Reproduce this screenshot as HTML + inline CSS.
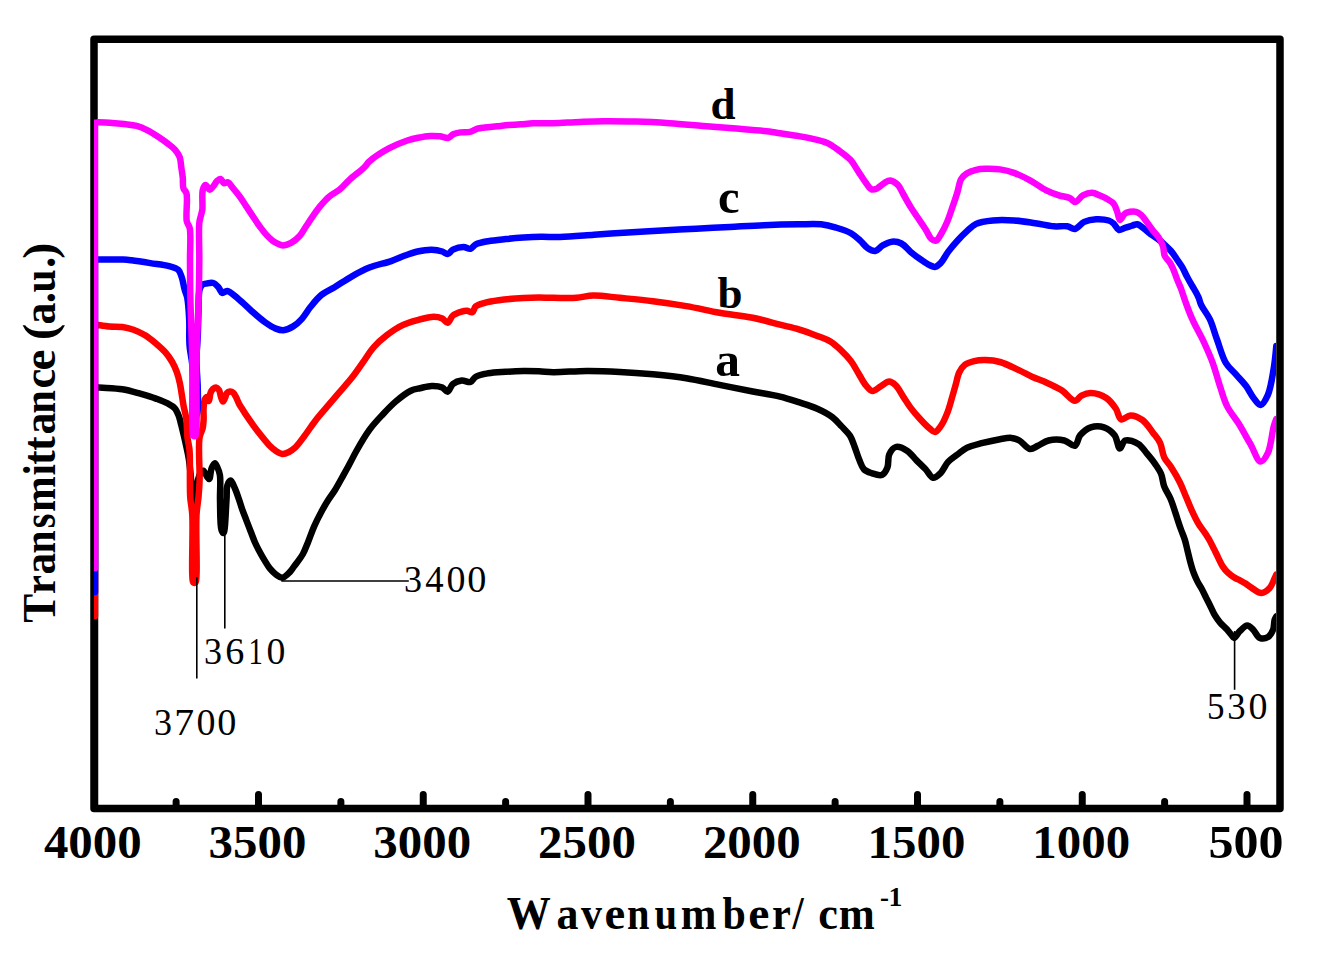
<!DOCTYPE html><html><head><meta charset="utf-8"><style>html,body{margin:0;padding:0;background:#fff;}svg{display:block;}</style></head><body>
<svg width="1323" height="964" viewBox="0 0 1323 964">
<defs><clipPath id="pc"><rect x="94" y="39" width="1182" height="770"/></clipPath></defs>
<rect width="1323" height="964" fill="#fff"/>
<rect x="94" y="39.3" width="1186" height="769.2" fill="none" stroke="#000" stroke-width="7.5" stroke-linejoin="round"/>
<path d="M258.50 808L258.50 794.5M423.25 808L423.25 794.5M588.00 808L588.00 794.5M752.75 808L752.75 794.5M917.50 808L917.50 794.5M1082.25 808L1082.25 794.5M1247.00 808L1247.00 794.5M176.12 808L176.12 801.5M340.88 808L340.88 801.5M505.62 808L505.62 801.5M670.38 808L670.38 801.5M835.12 808L835.12 801.5M999.88 808L999.88 801.5M1164.62 808L1164.62 801.5" stroke="#000" stroke-width="7" stroke-linecap="round" fill="none"/>
<g clip-path="url(#pc)" fill="none" stroke-width="6.5" stroke-linejoin="round" stroke-linecap="round">
<path d="M95.0 808.0L95.0 386.5C95.0 386.5 95.8 387.0 96.7 387.2C100.2 388.0 114.5 388.0 122.3 389.3C129.1 390.4 135.1 392.3 141.0 393.9C146.3 395.4 151.3 396.9 155.9 398.6C159.9 400.1 163.8 401.5 167.1 403.2C169.9 404.7 172.6 405.9 174.5 408.0C176.5 410.1 177.7 413.2 178.8 416.0C179.9 418.7 180.4 421.9 181.1 424.5C181.7 426.7 182.1 428.2 182.7 430.7C183.6 434.5 185.0 440.2 186.0 445.0C187.1 449.9 188.1 453.8 189.0 460.0C190.4 470.1 191.6 484.8 192.5 500.0C193.7 520.1 193.9 570.0 194.5 570.0C195.1 570.0 195.0 516.2 196.0 500.0C196.5 491.3 196.8 485.1 198.0 480.0C198.8 476.7 199.8 473.5 201.0 472.0C201.7 471.2 202.5 470.5 203.3 470.7C204.9 471.1 207.7 479.3 209.1 479.0C210.5 478.7 210.4 471.0 211.6 468.2C212.5 466.1 213.9 463.2 214.9 463.2C215.8 463.2 216.6 465.8 217.4 467.4C218.4 469.5 219.4 471.6 219.9 474.9C220.9 480.8 219.8 491.3 220.0 500.0C220.3 509.6 219.9 525.3 221.5 530.0C222.0 531.6 222.9 533.1 223.5 533.0C225.3 532.6 225.8 508.9 226.5 500.0C227.0 494.0 226.3 488.4 227.5 485.0C228.2 483.0 229.5 480.5 230.6 480.6C232.0 480.7 233.7 485.8 235.0 488.7C236.4 491.8 237.5 495.2 238.7 498.6C240.0 502.2 241.1 506.3 242.4 509.9C243.6 513.3 244.9 516.4 246.2 519.8C247.6 523.4 249.1 527.3 250.5 531.0C252.0 534.7 253.3 538.6 254.9 542.2C256.4 545.7 258.2 549.0 259.9 552.2C261.5 555.2 263.2 558.1 264.9 560.9C266.5 563.5 267.9 566.1 269.8 568.4C271.7 570.7 273.9 573.0 276.1 574.6C278.1 576.0 280.2 577.9 282.3 577.7C284.7 577.5 287.8 574.1 289.8 572.1C291.6 570.3 292.4 568.7 294.1 566.4C296.5 563.1 300.5 558.3 302.9 554.0C305.1 550.0 306.4 546.1 308.2 541.7C310.2 536.8 312.1 530.9 314.4 525.8C316.6 520.9 319.1 516.0 321.4 511.7C323.5 507.9 325.4 504.6 327.6 501.1C329.8 497.5 332.4 494.2 334.7 490.5C337.1 486.6 339.4 482.4 341.7 478.2C344.1 473.9 346.6 469.5 349.0 465.0C351.5 460.4 353.5 456.1 356.4 451.0C360.0 444.6 364.8 436.2 369.4 429.9C373.5 424.2 378.0 419.5 382.5 414.7C386.8 410.1 390.9 405.6 395.6 401.6C400.3 397.6 406.2 392.9 410.8 390.7C414.1 389.1 416.7 388.9 420.0 388.2C423.7 387.4 427.9 386.1 431.7 386.0C435.3 385.9 439.5 386.3 442.3 387.5C444.5 388.5 446.0 391.9 447.6 391.7C449.5 391.4 450.6 385.9 452.9 384.0C455.3 382.1 458.7 380.8 461.7 380.5C464.6 380.2 468.1 382.8 470.5 382.0C472.7 381.3 473.4 378.1 475.8 376.7C478.9 374.9 483.7 374.1 488.2 373.3C493.5 372.4 499.9 372.2 505.8 371.8C511.7 371.4 517.8 371.1 523.5 371.0C528.8 370.9 533.9 371.1 539.0 371.3C543.9 371.5 547.5 372.1 553.3 372.2C562.1 372.3 575.4 371.0 586.5 370.9C597.6 370.8 608.7 371.3 619.8 371.9C630.9 372.4 641.9 373.2 653.0 374.2C664.1 375.3 675.2 376.4 686.3 378.2C697.4 380.0 708.4 382.7 719.5 384.9C730.6 387.1 742.3 389.5 752.8 391.5C762.3 393.3 771.8 394.6 780.0 396.6C786.9 398.3 792.5 400.2 798.7 402.2C804.9 404.2 811.5 406.1 817.3 408.7C822.7 411.1 828.1 413.9 832.3 417.1C836.0 419.9 838.6 423.2 841.6 426.4C844.5 429.5 847.8 432.3 850.0 435.8C852.2 439.2 853.2 443.1 854.7 447.0C856.3 451.2 857.7 456.1 859.4 460.1C860.8 463.5 861.8 467.2 864.0 469.4C866.0 471.4 868.7 472.2 871.5 473.1C874.6 474.1 879.1 476.1 881.8 475.0C884.3 474.0 886.2 470.5 887.4 467.5C888.9 463.9 887.6 458.0 889.2 454.5C890.6 451.4 893.0 447.8 895.8 447.0C898.8 446.2 903.7 448.6 907.0 450.7C910.5 452.9 913.2 457.0 916.3 460.1C919.4 463.2 922.8 466.3 925.7 469.4C928.4 472.2 930.5 477.4 933.1 477.8C935.5 478.1 938.3 475.3 940.6 473.1C943.4 470.4 945.2 465.1 948.1 461.9C950.8 458.9 954.3 456.9 957.4 454.5C960.5 452.2 963.1 449.7 966.7 447.9C971.0 445.8 976.4 444.6 981.7 443.2C987.5 441.7 994.6 440.1 1000.0 439.2C1004.2 438.5 1008.0 437.6 1011.4 437.9C1014.3 438.2 1016.7 439.0 1019.4 440.5C1022.9 442.4 1026.6 448.5 1030.0 449.0C1032.7 449.4 1035.1 447.1 1037.9 445.8C1041.2 444.3 1044.5 441.4 1048.5 440.5C1053.1 439.4 1059.7 439.4 1064.3 440.5C1068.3 441.4 1072.2 446.7 1074.9 445.8C1077.6 444.9 1077.7 438.2 1080.2 435.2C1082.9 432.0 1086.8 428.6 1090.8 427.3C1094.8 426.0 1100.0 426.0 1104.0 427.3C1108.0 428.6 1112.0 431.8 1114.6 435.2C1117.3 438.8 1117.9 448.3 1119.9 448.5C1121.5 448.7 1122.6 441.5 1125.2 440.5C1128.3 439.3 1134.7 441.7 1138.3 443.9C1141.8 446.0 1143.9 450.0 1146.6 453.2C1149.4 456.5 1152.4 460.1 1154.9 463.6C1157.2 467.0 1159.6 470.2 1161.1 473.9C1162.7 477.8 1162.7 482.3 1164.2 486.4C1165.8 490.6 1168.6 494.4 1170.5 498.8C1172.5 503.4 1173.9 508.4 1175.6 513.4C1177.3 518.5 1179.1 524.3 1180.8 529.0C1182.2 533.0 1183.8 536.3 1184.9 540.0C1186.0 543.6 1186.7 547.3 1187.6 550.9C1188.5 554.5 1189.3 558.2 1190.3 561.8C1191.3 565.4 1192.3 569.3 1193.6 572.7C1194.7 575.8 1196.0 578.6 1197.4 581.4C1198.7 584.1 1200.4 586.4 1201.8 589.0C1203.3 591.8 1204.7 594.8 1206.1 597.7C1207.6 600.6 1209.0 603.5 1210.5 606.4C1212.0 609.3 1213.2 612.4 1214.9 615.2C1216.5 617.9 1218.3 620.4 1220.3 622.8C1222.3 625.1 1224.9 627.2 1226.8 629.3C1228.5 631.2 1230.2 633.4 1231.5 635.0C1232.5 636.1 1233.0 637.9 1234.0 637.9C1235.5 637.9 1237.6 633.3 1239.8 631.2C1242.0 629.1 1244.9 625.4 1247.3 625.4C1249.3 625.4 1251.2 627.8 1253.1 629.6C1255.4 631.8 1257.1 636.8 1259.8 637.9C1262.2 638.9 1265.9 638.3 1268.1 637.0C1270.4 635.6 1272.0 632.4 1273.1 629.6C1274.3 626.6 1273.9 621.9 1274.7 619.6C1275.2 618.2 1276.3 616.5 1276.3 616.5" stroke="#000"/>
<path d="M95.0 616.0L95.0 324.5C95.0 324.5 95.9 324.6 96.7 324.7C99.0 325.0 105.1 326.1 109.3 326.5C113.6 326.9 118.2 326.4 122.3 327.0C126.2 327.6 129.8 328.5 133.5 329.8C137.3 331.2 141.1 332.9 144.7 335.1C148.6 337.4 152.4 340.6 155.9 343.5C159.2 346.3 162.5 349.1 165.2 352.2C167.9 355.2 170.2 358.6 172.2 362.0C174.1 365.2 175.5 368.5 176.8 372.0C178.1 375.5 179.0 379.4 179.8 383.0C180.6 386.5 181.0 389.8 181.6 393.5C182.3 397.6 182.9 402.3 183.7 406.5C184.5 410.5 185.6 413.9 186.2 418.3C187.0 423.8 186.8 431.4 187.4 437.0C187.9 441.7 189.0 444.7 189.5 449.9C190.2 457.8 189.8 471.4 189.9 480.0C190.0 486.5 189.8 491.3 190.2 497.0C190.6 502.9 191.8 507.2 192.3 515.0C193.1 529.1 191.6 564.6 192.3 575.0C192.5 578.7 192.3 581.6 193.3 582.5C193.8 583.0 195.0 583.0 195.5 582.5C196.5 581.6 196.3 578.7 196.5 575.0C197.2 564.6 195.7 529.1 196.5 515.0C196.9 507.2 198.0 502.9 198.5 497.0C199.0 491.3 199.4 486.9 199.6 480.0C199.9 469.1 198.1 447.1 199.5 438.0C200.2 433.4 202.0 431.2 202.7 428.0C203.3 425.2 203.4 422.9 203.6 420.0C203.8 416.4 203.3 411.7 203.6 408.0C203.8 404.8 204.1 400.8 205.0 399.0C205.5 398.0 206.4 396.9 207.0 397.0C207.8 397.1 208.5 401.1 209.0 401.0C209.7 400.9 209.7 395.1 210.5 393.0C211.1 391.4 212.0 389.9 213.0 389.0C213.9 388.2 215.0 387.4 216.0 387.5C217.0 387.6 218.2 388.8 219.0 390.0C220.1 391.6 220.3 394.9 221.0 397.0C221.6 398.7 222.3 401.5 223.0 401.5C223.6 401.5 224.4 399.3 225.0 398.0C225.7 396.5 226.0 394.1 227.0 393.0C227.8 392.1 229.0 391.6 230.0 391.5C231.0 391.4 232.1 391.8 233.0 392.5C234.2 393.4 235.1 395.3 236.0 397.0C237.1 399.0 237.9 401.8 239.0 403.8C239.9 405.6 240.9 406.7 242.0 408.5C243.5 410.9 245.2 413.7 247.4 416.9C250.4 421.3 254.6 427.3 258.3 432.1C261.9 436.7 265.9 441.8 269.2 445.2C271.6 447.6 273.7 449.5 276.0 451.0C278.1 452.3 280.1 453.7 282.3 453.9C284.5 454.1 286.9 453.0 289.0 452.0C291.3 450.9 293.2 449.4 295.4 447.4C298.3 444.7 301.1 440.5 304.1 436.5C307.6 431.9 311.3 426.0 315.0 421.2C318.5 416.6 322.1 412.6 325.9 408.1C330.0 403.2 334.6 398.0 338.9 392.9C343.3 387.8 347.9 382.8 352.0 377.6C355.9 372.6 359.3 367.5 362.9 362.4C366.5 357.3 369.7 351.7 373.8 347.1C377.8 342.6 382.2 338.8 386.9 335.2C391.6 331.6 396.8 327.9 402.1 325.4C407.1 323.0 412.5 321.6 417.6 320.2C422.4 318.8 427.3 317.1 431.7 316.9C435.5 316.7 439.5 317.3 442.3 318.5C444.5 319.5 445.9 322.9 447.6 322.7C449.5 322.4 450.6 317.3 452.9 315.5C455.3 313.6 459.1 312.4 461.7 311.6C463.6 311.0 465.2 310.7 467.0 310.8C468.8 310.9 470.9 312.9 472.3 312.3C473.9 311.7 474.0 307.8 475.8 306.3C477.9 304.5 481.3 303.8 484.7 302.8C488.8 301.6 493.4 300.9 498.8 300.2C505.9 299.2 516.2 298.4 523.5 298.0C529.3 297.7 533.9 297.6 539.0 297.6C543.9 297.6 548.0 297.8 553.3 297.8C560.1 297.8 569.4 298.3 576.5 297.8C582.5 297.4 587.0 295.7 593.2 295.5C601.0 295.3 610.4 296.9 619.8 297.8C630.3 298.8 641.9 299.8 653.0 301.2C664.1 302.6 675.2 304.2 686.3 306.1C697.4 308.0 708.4 310.8 719.5 312.8C730.6 314.7 742.3 315.7 752.8 317.8C762.4 319.7 771.8 322.6 780.0 324.7C786.8 326.4 792.5 327.4 798.7 329.3C805.0 331.2 811.7 333.7 817.3 335.9C822.1 337.8 826.4 339.0 830.4 341.5C834.5 344.0 838.1 347.5 841.6 350.8C845.0 354.0 848.2 357.4 851.0 361.1C853.8 364.8 855.9 369.2 858.4 373.2C860.9 377.3 863.2 382.3 865.9 385.4C868.0 387.8 870.0 390.8 872.4 391.0C874.9 391.3 878.0 387.9 880.8 386.3C883.6 384.7 886.6 381.6 889.2 381.6C891.5 381.6 893.7 383.5 895.8 385.4C898.5 388.0 900.7 392.9 903.2 396.6C905.7 400.3 908.0 404.1 910.7 407.8C913.6 411.6 916.9 415.5 920.1 419.0C923.1 422.3 926.6 426.0 929.4 428.3C931.4 429.9 933.2 432.2 935.0 432.0C937.0 431.8 938.8 428.8 940.6 426.4C943.0 423.1 945.3 418.0 947.1 413.4C949.0 408.7 950.4 403.2 951.8 398.4C953.1 393.9 954.3 389.7 955.5 385.4C956.8 381.0 957.5 375.9 959.3 372.3C960.8 369.3 962.5 366.7 964.9 364.8C967.4 362.9 970.9 361.9 974.2 361.1C977.7 360.3 981.4 360.0 985.4 360.1C989.9 360.2 994.9 360.6 1000.0 362.0C1006.1 363.7 1013.6 367.7 1019.4 370.4C1024.3 372.7 1028.2 375.0 1032.6 377.0C1037.0 379.0 1041.2 380.2 1045.8 382.3C1050.9 384.6 1056.8 387.2 1061.7 390.3C1066.5 393.4 1071.3 400.8 1074.9 400.8C1077.5 400.8 1079.0 396.9 1081.5 395.6C1084.2 394.2 1087.3 392.8 1090.8 392.9C1095.4 393.0 1102.4 395.3 1106.7 398.2C1110.6 400.8 1113.4 405.1 1115.9 408.8C1118.2 412.2 1118.6 418.5 1121.2 419.4C1123.6 420.3 1127.2 415.5 1130.5 415.4C1134.2 415.3 1138.9 417.5 1142.4 420.0C1146.4 422.9 1149.7 428.4 1152.8 432.4C1155.5 436.0 1158.2 438.9 1160.1 442.8C1162.1 447.1 1162.2 453.0 1164.2 457.3C1166.1 461.2 1169.1 463.9 1171.5 467.7C1174.3 472.1 1177.4 477.3 1179.8 482.2C1182.2 487.0 1183.9 491.9 1186.0 496.8C1188.1 501.6 1190.0 506.7 1192.2 511.3C1194.2 515.6 1196.2 519.9 1198.5 523.7C1200.5 527.1 1203.1 530.1 1205.0 533.0C1206.6 535.5 1208.0 537.5 1209.4 540.0C1210.9 542.7 1212.3 545.8 1213.8 548.7C1215.2 551.6 1216.7 554.5 1218.1 557.4C1219.6 560.3 1220.8 563.5 1222.5 566.1C1224.1 568.5 1225.9 570.8 1227.9 572.7C1229.9 574.6 1232.3 576.3 1234.5 577.6C1236.4 578.7 1238.2 579.4 1240.0 580.3C1241.7 581.2 1243.0 582.0 1244.8 583.1C1247.2 584.6 1250.3 587.2 1253.1 588.9C1255.8 590.5 1258.7 593.1 1261.4 593.0C1264.2 592.9 1267.5 590.4 1269.7 588.0C1272.0 585.5 1273.5 580.6 1274.7 578.1C1275.4 576.6 1276.3 574.5 1276.3 574.5" stroke="#f00"/>
<path d="M95.0 592.0L95.0 259.6C95.0 259.6 95.8 259.6 96.7 259.6C100.3 259.6 116.9 259.3 123.3 259.6C126.9 259.7 128.3 259.9 131.6 260.3C136.6 260.9 144.1 262.1 150.3 263.1C156.5 264.1 163.9 264.7 169.0 266.1C172.7 267.1 176.2 267.9 178.3 269.9C180.2 271.7 180.8 274.5 181.8 277.3C183.0 280.8 183.6 285.8 184.6 289.5C185.4 292.6 186.6 294.5 187.3 298.0C188.4 303.6 188.8 312.4 189.2 320.0C189.6 328.1 188.9 337.1 189.5 345.0C190.0 352.1 191.6 357.4 192.3 365.0C193.2 375.0 193.4 390.3 194.0 400.0C194.5 407.0 194.7 417.9 195.5 418.0C196.1 418.0 197.2 413.3 197.6 410.0C198.3 404.9 197.9 397.3 197.8 390.0C197.7 381.0 196.5 369.5 196.5 360.0C196.5 351.3 197.5 343.3 197.8 335.0C198.1 326.7 198.2 317.9 198.5 310.0C198.8 303.0 198.4 294.4 199.5 290.0C200.1 287.7 200.8 286.1 202.0 285.0C203.1 284.1 204.5 283.9 206.1 283.6C208.2 283.2 211.4 282.3 213.5 283.0C215.5 283.6 217.0 285.7 218.5 287.3C220.0 289.0 220.7 292.4 222.3 292.9C223.7 293.3 225.3 290.8 227.2 291.0C230.3 291.4 234.8 296.1 238.7 299.2C243.0 302.7 247.4 307.3 251.8 311.2C256.1 315.0 260.6 319.1 264.9 322.1C268.6 324.7 272.4 327.3 275.8 328.6C278.5 329.6 280.7 330.4 283.4 330.2C286.5 329.9 290.2 328.2 293.2 326.4C296.4 324.5 299.2 321.8 301.9 318.8C305.0 315.4 307.4 310.7 310.6 306.8C313.9 302.7 317.4 298.2 321.5 294.9C325.5 291.7 329.9 290.0 334.6 287.2C340.0 283.9 346.1 279.6 352.0 276.3C357.7 273.1 363.2 270.1 369.4 267.6C376.1 264.9 384.8 263.3 391.2 261.1C396.4 259.3 400.5 257.1 405.0 255.5C409.3 254.0 413.2 252.5 417.6 251.5C422.1 250.5 427.3 249.6 431.7 249.7C435.5 249.8 439.4 250.6 442.3 251.5C444.4 252.2 445.9 254.3 447.6 254.1C449.4 253.9 450.7 250.8 452.9 249.7C455.7 248.3 460.3 247.0 463.5 247.0C466.1 247.0 468.4 249.3 470.5 248.8C472.5 248.3 473.5 245.6 475.8 244.4C478.9 242.8 483.7 242.0 488.2 241.2C493.5 240.2 499.9 239.7 505.8 239.1C511.7 238.5 517.6 238.0 523.5 237.6C529.4 237.2 535.1 236.9 541.1 236.8C547.3 236.7 552.8 237.2 560.0 237.0C569.7 236.7 582.7 235.5 594.0 234.7C605.3 234.0 616.7 233.2 628.0 232.5C639.3 231.8 650.7 231.1 662.0 230.5C673.3 229.9 684.7 229.3 696.0 228.7C707.3 228.1 718.7 227.6 730.0 227.0C741.3 226.4 752.6 225.6 764.0 225.2C775.5 224.7 788.4 224.4 798.7 224.3C807.0 224.2 814.4 223.6 821.1 224.3C826.6 224.9 831.1 226.1 836.0 227.6C841.0 229.1 846.8 230.8 851.0 233.2C854.7 235.3 857.4 238.1 860.3 240.7C863.0 243.1 865.1 246.5 867.8 248.2C870.1 249.7 872.8 251.3 875.2 251.0C877.8 250.6 880.0 246.9 882.7 245.4C885.5 243.8 888.8 242.0 892.0 241.7C895.1 241.4 898.5 242.0 901.4 243.5C904.8 245.2 907.4 249.2 910.7 251.9C914.2 254.8 918.5 258.0 921.9 260.3C924.6 262.2 927.0 263.9 929.4 265.0C931.3 265.9 933.2 267.1 935.0 266.9C936.9 266.6 938.8 264.9 940.6 263.1C943.2 260.5 945.4 255.6 948.1 251.9C950.9 248.1 954.2 244.2 957.4 240.7C960.4 237.4 963.5 234.3 966.7 231.4C969.8 228.7 972.3 225.7 976.1 223.9C980.7 221.8 986.9 221.1 992.9 220.5C999.5 219.8 1007.1 220.1 1014.1 220.5C1021.2 220.9 1028.4 222.2 1035.2 223.2C1041.6 224.1 1048.1 225.8 1053.8 226.3C1058.6 226.7 1063.2 225.7 1067.0 226.3C1070.0 226.8 1072.3 229.4 1074.9 229.0C1078.0 228.5 1080.7 223.5 1084.2 221.9C1087.8 220.2 1092.1 219.4 1096.1 219.2C1100.2 219.0 1105.5 219.4 1108.7 220.5C1110.9 221.2 1112.1 222.2 1113.7 223.6C1115.5 225.2 1116.7 229.2 1118.7 229.8C1120.5 230.4 1122.7 228.6 1124.9 227.9C1127.3 227.2 1130.1 226.2 1132.4 225.5C1134.2 225.0 1135.8 223.9 1137.4 224.2C1139.1 224.5 1140.5 226.0 1142.3 227.3C1144.6 229.0 1147.3 231.6 1149.8 233.5C1152.3 235.3 1154.8 236.7 1157.3 238.5C1159.9 240.4 1162.5 242.7 1164.8 244.8C1167.0 246.8 1169.0 248.7 1171.0 251.0C1173.2 253.6 1175.3 256.9 1177.2 259.7C1179.0 262.3 1180.6 264.5 1182.2 267.2C1184.0 270.2 1185.5 273.9 1187.2 277.1C1188.8 280.1 1190.5 282.8 1192.2 285.9C1194.2 289.4 1196.9 293.7 1198.4 297.1C1199.6 299.8 1199.7 301.8 1201.0 304.7C1202.9 308.9 1207.2 313.8 1209.8 319.2C1212.7 325.3 1214.4 332.5 1217.0 339.5C1219.8 347.0 1222.1 356.6 1225.8 362.8C1228.7 367.7 1232.5 370.5 1235.9 374.4C1239.3 378.3 1243.1 382.0 1246.1 386.0C1248.9 389.8 1250.8 394.4 1253.4 397.7C1255.7 400.6 1258.3 405.2 1260.6 405.0C1263.1 404.8 1265.9 399.2 1267.9 394.8C1270.8 388.3 1272.3 377.0 1273.7 368.6C1275.0 360.8 1276.3 346.0 1276.3 346.0" stroke="#00f"/>
<path d="M95.0 568.0L95.0 122.6C95.0 122.6 95.8 122.4 96.7 122.4C99.5 122.3 109.5 122.8 114.9 123.2C119.1 123.5 122.6 123.8 126.3 124.3C129.9 124.7 133.3 125.0 136.7 125.9C140.2 126.9 143.7 128.4 147.1 130.1C150.6 131.9 154.0 134.1 157.4 136.3C160.9 138.6 164.7 141.2 167.8 143.6C170.5 145.7 173.1 147.5 175.1 149.8C177.0 152.0 178.7 154.3 179.7 157.1C180.8 160.1 180.8 164.0 181.3 167.4C181.8 170.9 182.4 174.3 182.8 177.8C183.1 181.3 182.5 185.4 183.4 188.2C184.1 190.3 185.8 190.8 186.5 193.4C188.0 198.9 185.5 215.4 186.8 221.4C187.5 224.5 189.0 224.9 189.7 228.0C191.1 234.6 189.9 249.0 190.0 260.0C190.1 271.6 190.0 282.3 190.3 296.0C190.7 314.3 191.9 338.3 192.3 360.0C192.7 382.3 191.8 416.5 192.5 428.0C192.7 431.9 192.4 434.9 193.4 435.8C193.9 436.2 194.9 436.2 195.4 435.8C196.4 434.9 196.1 431.9 196.4 428.0C197.1 416.5 196.1 382.3 196.5 360.0C196.9 338.3 198.3 314.3 198.8 296.0C199.1 282.3 199.2 272.1 199.3 260.0C199.4 247.8 198.5 230.3 199.3 223.0C199.6 219.9 200.2 218.6 200.7 216.4C201.2 214.2 201.9 212.6 202.3 209.8C202.9 205.0 201.6 194.1 202.8 189.8C203.4 187.5 204.5 185.0 205.6 184.9C206.8 184.8 208.5 189.7 209.8 189.8C210.9 189.8 212.0 187.8 213.1 186.5C214.5 184.9 215.8 182.0 217.3 180.7C218.4 179.8 219.6 178.8 220.6 179.0C221.8 179.3 222.6 182.7 223.9 183.2C225.1 183.6 226.7 181.9 228.0 182.4C229.8 183.0 231.2 186.1 233.0 188.2C235.1 190.7 237.5 193.6 239.7 196.5C242.0 199.6 244.1 203.1 246.3 206.4C248.5 209.7 250.7 213.1 252.9 216.4C255.1 219.7 257.3 223.2 259.6 226.3C261.8 229.2 263.8 232.0 266.2 234.6C268.7 237.3 271.6 240.3 274.5 242.1C277.1 243.7 280.0 245.3 282.8 245.4C285.5 245.5 288.5 244.3 291.1 242.9C294.0 241.4 297.0 238.9 299.4 236.3C302.0 233.5 303.9 229.6 306.1 226.3C308.3 223.0 310.4 219.7 312.7 216.4C315.0 213.1 317.3 209.7 320.0 206.4C322.8 203.0 326.0 199.2 329.4 196.4C332.5 193.8 336.2 192.4 339.4 189.8C342.9 187.0 345.6 183.2 349.4 179.8C353.8 175.8 360.9 170.8 364.4 167.3C366.6 165.1 366.9 163.6 369.3 161.5C373.6 157.7 382.6 151.8 389.3 148.2C395.3 145.0 402.0 142.3 407.3 140.5C411.3 139.2 414.4 138.5 418.1 137.8C422.0 137.0 426.4 136.2 430.2 136.0C433.6 135.8 436.8 136.0 439.9 136.3C442.8 136.6 446.1 138.4 448.4 137.8C450.3 137.3 451.3 135.1 453.2 134.2C455.3 133.2 457.9 132.8 460.5 132.4C463.5 131.9 467.2 132.5 470.1 131.8C472.8 131.2 474.9 129.4 477.4 128.7C479.8 128.0 481.9 127.9 484.6 127.5C488.1 127.0 492.7 126.7 496.7 126.3C500.7 125.9 504.8 125.4 508.8 125.1C512.8 124.8 516.9 124.6 520.9 124.3C524.9 124.0 528.4 123.5 533.0 123.3C538.9 123.0 546.1 123.4 553.3 123.2C561.6 123.0 571.3 122.2 579.9 121.9C587.9 121.6 594.7 121.3 603.1 121.2C613.2 121.1 625.3 121.3 636.4 121.6C647.5 121.9 658.6 122.5 669.7 123.2C680.8 123.9 691.8 125.0 702.9 125.9C714.0 126.8 725.1 127.7 736.2 128.6C747.3 129.5 761.4 130.5 769.4 131.5C773.9 132.1 776.0 132.7 780.0 133.3C785.4 134.2 792.5 135.0 798.7 136.1C804.9 137.2 811.9 138.5 817.3 139.9C821.6 141.0 825.0 141.8 828.6 143.6C832.5 145.5 836.1 148.4 839.8 151.1C843.6 153.9 847.9 156.9 851.0 160.4C854.0 163.8 855.9 167.9 858.4 171.6C860.9 175.3 863.5 179.6 865.9 182.8C867.8 185.4 869.4 188.6 871.5 189.4C873.2 190.0 875.2 189.2 877.1 188.4C879.5 187.3 882.2 184.1 884.6 182.8C886.5 181.7 888.2 180.5 890.2 180.6C892.5 180.8 895.5 182.7 897.6 184.7C900.0 187.0 901.2 190.6 903.2 194.0C905.5 198.0 908.1 202.9 910.7 207.1C913.1 211.0 915.7 214.6 918.2 218.3C920.7 222.0 923.4 225.9 925.7 229.5C927.7 232.7 929.2 237.1 931.3 238.9C932.7 240.1 934.4 241.1 935.9 240.7C937.9 240.1 939.8 236.0 941.5 233.2C943.5 229.9 945.4 225.9 947.1 222.0C948.9 217.9 950.2 213.6 951.8 209.0C953.6 203.8 955.8 197.5 957.4 192.2C958.8 187.6 959.2 182.4 961.1 179.1C962.6 176.6 964.4 175.0 966.7 173.5C969.3 171.8 972.9 170.6 976.1 169.8C979.2 169.0 981.9 168.9 985.4 168.8C989.7 168.7 995.2 168.7 1000.0 169.4C1004.8 170.1 1009.3 171.2 1014.1 172.9C1019.3 174.7 1024.8 177.5 1030.0 180.3C1035.4 183.2 1040.7 187.5 1045.8 190.1C1050.3 192.4 1054.8 194.0 1059.0 195.4C1062.7 196.6 1066.7 196.7 1069.6 198.0C1071.9 199.0 1073.4 202.1 1075.4 202.0C1077.8 201.9 1080.1 196.9 1082.9 195.4C1085.7 193.9 1089.2 192.7 1092.1 192.8C1094.8 192.9 1097.4 194.5 1100.0 195.6C1102.6 196.7 1105.2 197.9 1107.5 199.3C1109.7 200.6 1112.1 201.7 1113.7 203.7C1115.5 205.9 1116.3 209.6 1117.4 212.4C1118.4 215.0 1118.7 219.7 1119.9 219.9C1121.2 220.1 1123.0 214.9 1124.9 213.6C1126.4 212.5 1128.1 212.1 1129.9 211.8C1131.8 211.5 1134.2 211.3 1136.1 211.8C1137.9 212.3 1139.5 213.5 1141.1 214.9C1142.9 216.5 1144.4 218.8 1146.1 221.1C1148.1 223.7 1150.2 227.0 1152.3 229.8C1154.3 232.4 1156.7 234.6 1158.5 237.3C1160.3 240.0 1161.9 242.9 1162.9 246.0C1164.0 249.1 1163.5 253.2 1164.8 256.0C1165.9 258.5 1168.3 260.0 1169.7 262.2C1171.2 264.5 1172.3 267.0 1173.5 269.7C1174.8 272.7 1175.9 276.4 1177.2 279.6C1178.4 282.6 1179.7 285.2 1180.9 288.3C1182.2 291.8 1183.2 295.3 1184.7 299.6C1186.7 305.3 1189.3 312.5 1192.3 319.2C1195.6 326.7 1200.5 334.9 1204.0 342.4C1207.2 349.4 1210.1 355.7 1212.7 362.8C1215.4 370.2 1217.4 378.5 1219.9 386.0C1222.3 393.0 1224.0 400.1 1227.2 406.4C1230.3 412.6 1235.0 417.7 1238.8 423.8C1242.8 430.3 1246.7 437.7 1250.5 444.2C1254.0 450.2 1257.3 461.3 1260.6 461.6C1263.1 461.8 1265.9 456.9 1267.9 452.9C1270.9 446.8 1272.0 432.8 1273.7 426.7C1274.6 423.3 1276.3 419.0 1276.3 419.0" stroke="#f0f"/>
</g>
<path d="M196.8 577V678.6M224.8 533V628.6M281.3 581H408.8M1234.6 631V689.8" stroke="#000" stroke-width="1.6" fill="none"/>
<text x="92.8" y="858" font-family="Liberation Serif" font-weight="bold" font-size="46.2" text-anchor="middle" textLength="97.8" lengthAdjust="spacingAndGlyphs">4000</text>
<text x="257.5" y="858" font-family="Liberation Serif" font-weight="bold" font-size="46.2" text-anchor="middle" textLength="97.8" lengthAdjust="spacingAndGlyphs">3500</text>
<text x="422.2" y="858" font-family="Liberation Serif" font-weight="bold" font-size="46.2" text-anchor="middle" textLength="97.8" lengthAdjust="spacingAndGlyphs">3000</text>
<text x="587.0" y="858" font-family="Liberation Serif" font-weight="bold" font-size="46.2" text-anchor="middle" textLength="97.8" lengthAdjust="spacingAndGlyphs">2500</text>
<text x="751.8" y="858" font-family="Liberation Serif" font-weight="bold" font-size="46.2" text-anchor="middle" textLength="97.8" lengthAdjust="spacingAndGlyphs">2000</text>
<text x="916.5" y="858" font-family="Liberation Serif" font-weight="bold" font-size="46.2" text-anchor="middle" textLength="97.8" lengthAdjust="spacingAndGlyphs">1500</text>
<text x="1081.2" y="858" font-family="Liberation Serif" font-weight="bold" font-size="46.2" text-anchor="middle" textLength="97.8" lengthAdjust="spacingAndGlyphs">1000</text>
<text x="1246.0" y="858" font-family="Liberation Serif" font-weight="bold" font-size="46.2" text-anchor="middle" textLength="75" lengthAdjust="spacingAndGlyphs">500</text>
<text x="710.4" y="119.2" font-family="Liberation Serif" font-weight="bold" font-size="45">d</text>
<text x="717.9" y="213" font-family="Liberation Serif" font-weight="bold" font-size="48.6">c</text>
<text x="717.5" y="307.8" font-family="Liberation Serif" font-weight="bold" font-size="45">b</text>
<text x="715.3" y="376.3" font-family="Liberation Serif" font-weight="bold" font-size="49.5">a</text>
<text transform="translate(506.68 929.3) scale(0.9465 1)" font-family="Liberation Serif" font-weight="bold" font-size="46.5">W</text>
<text transform="translate(556.48 929.3) scale(0.9455 1)" font-family="Liberation Serif" font-weight="bold" font-size="46.5">a</text>
<text transform="translate(580.90 929.3) scale(0.9032 1)" font-family="Liberation Serif" font-weight="bold" font-size="46.5">v</text>
<text transform="translate(604.51 929.3) scale(1.0030 1)" font-family="Liberation Serif" font-weight="bold" font-size="46.5">e</text>
<text transform="translate(627.01 929.3) scale(0.8700 1)" font-family="Liberation Serif" font-weight="bold" font-size="46.5">n</text>
<text transform="translate(654.38 929.3) scale(0.8742 1)" font-family="Liberation Serif" font-weight="bold" font-size="46.5">u</text>
<text transform="translate(680.85 929.3) scale(0.9212 1)" font-family="Liberation Serif" font-weight="bold" font-size="46.5">m</text>
<text transform="translate(722.57 929.3) scale(0.9022 1)" font-family="Liberation Serif" font-weight="bold" font-size="46.5">b</text>
<text transform="translate(748.17 929.3) scale(1.0254 1)" font-family="Liberation Serif" font-weight="bold" font-size="46.5">e</text>
<text transform="translate(771.96 929.3) scale(0.9135 1)" font-family="Liberation Serif" font-weight="bold" font-size="46.5">r</text>
<text transform="translate(792.39 929.3) scale(0.8664 1)" font-family="Liberation Serif" font-weight="bold" font-size="46.5">/</text>
<text transform="translate(818.29 929.3) scale(0.9502 1)" font-family="Liberation Serif" font-weight="bold" font-size="46.5">c</text>
<text transform="translate(838.74 929.3) scale(0.9294 1)" font-family="Liberation Serif" font-weight="bold" font-size="46.5">m</text>
<text transform="translate(880.01 906.2) scale(1.0169 1)" font-family="Liberation Serif" font-weight="bold" font-size="26.5">-</text>
<text transform="translate(888.58 906.2) scale(1.0455 1)" font-family="Liberation Serif" font-weight="bold" font-size="26.5">1</text>
<text transform="translate(55 0) rotate(-90) translate(-622.68 0) scale(0.9356 1)" font-family="Liberation Serif" font-weight="bold" font-size="46.2">T</text>
<text transform="translate(55 0) rotate(-90) translate(-594.17 0) scale(0.9413 1)" font-family="Liberation Serif" font-weight="bold" font-size="46.2">r</text>
<text transform="translate(55 0) rotate(-90) translate(-574.60 0) scale(0.9421 1)" font-family="Liberation Serif" font-weight="bold" font-size="46.2">a</text>
<text transform="translate(55 0) rotate(-90) translate(-553.51 0) scale(0.8967 1)" font-family="Liberation Serif" font-weight="bold" font-size="46.2">n</text>
<text transform="translate(55 0) rotate(-90) translate(-528.13 0) scale(0.8089 1)" font-family="Liberation Serif" font-weight="bold" font-size="46.2">s</text>
<text transform="translate(55 0) rotate(-90) translate(-512.05 0) scale(0.9272 1)" font-family="Liberation Serif" font-weight="bold" font-size="46.2">m</text>
<text transform="translate(55 0) rotate(-90) translate(-475.39 0) scale(0.8794 1)" font-family="Liberation Serif" font-weight="bold" font-size="46.2">i</text>
<text transform="translate(55 0) rotate(-90) translate(-464.80 0) scale(0.9351 1)" font-family="Liberation Serif" font-weight="bold" font-size="46.2">t</text>
<text transform="translate(55 0) rotate(-90) translate(-450.80 0) scale(0.9351 1)" font-family="Liberation Serif" font-weight="bold" font-size="46.2">t</text>
<text transform="translate(55 0) rotate(-90) translate(-434.42 0) scale(0.9516 1)" font-family="Liberation Serif" font-weight="bold" font-size="46.2">a</text>
<text transform="translate(55 0) rotate(-90) translate(-413.74 0) scale(0.9219 1)" font-family="Liberation Serif" font-weight="bold" font-size="46.2">n</text>
<text transform="translate(55 0) rotate(-90) translate(-388.62 0) scale(0.9620 1)" font-family="Liberation Serif" font-weight="bold" font-size="46.2">c</text>
<text transform="translate(55 0) rotate(-90) translate(-370.51 0) scale(1.0208 1)" font-family="Liberation Serif" font-weight="bold" font-size="46.2">e</text>
<text transform="translate(55 0) rotate(-90) translate(-340.31 0) scale(1.0872 1)" font-family="Liberation Serif" font-weight="bold" font-size="46.2">(</text>
<text transform="translate(55 0) rotate(-90) translate(-324.51 0) scale(0.9468 1)" font-family="Liberation Serif" font-weight="bold" font-size="46.2">a</text>
<text transform="translate(55 0) rotate(-90) translate(-303.28 0) scale(0.9747 1)" font-family="Liberation Serif" font-weight="bold" font-size="46.2">.</text>
<text transform="translate(55 0) rotate(-90) translate(-292.53 0) scale(0.8967 1)" font-family="Liberation Serif" font-weight="bold" font-size="46.2">u</text>
<text transform="translate(55 0) rotate(-90) translate(-267.98 0) scale(0.9747 1)" font-family="Liberation Serif" font-weight="bold" font-size="46.2">.</text>
<text transform="translate(55 0) rotate(-90) translate(-258.66 0) scale(1.0450 1)" font-family="Liberation Serif" font-weight="bold" font-size="46.2">)</text>
<text transform="translate(404.07 592) scale(0.9492 1)" font-family="Liberation Serif" font-size="38">3</text>
<text transform="translate(425.18 592) scale(0.9681 1)" font-family="Liberation Serif" font-size="38">4</text>
<text transform="translate(446.55 592) scale(0.9997 1)" font-family="Liberation Serif" font-size="38">0</text>
<text transform="translate(467.34 592) scale(1.0059 1)" font-family="Liberation Serif" font-size="38">0</text>
<text transform="translate(204.07 664) scale(0.9492 1)" font-family="Liberation Serif" font-size="38">3</text>
<text transform="translate(225.26 664) scale(1.0040 1)" font-family="Liberation Serif" font-size="38">6</text>
<text transform="translate(248.48 664) scale(0.7550 1)" font-family="Liberation Serif" font-size="38">1</text>
<text transform="translate(266.56 664) scale(0.9935 1)" font-family="Liberation Serif" font-size="38">0</text>
<text transform="translate(154.07 735) scale(0.9492 1)" font-family="Liberation Serif" font-size="38">3</text>
<text transform="translate(174.28 735) scale(1.0454 1)" font-family="Liberation Serif" font-size="38">7</text>
<text transform="translate(196.55 735) scale(0.9997 1)" font-family="Liberation Serif" font-size="38">0</text>
<text transform="translate(217.34 735) scale(1.0059 1)" font-family="Liberation Serif" font-size="38">0</text>
<text transform="translate(1206.97 719) scale(0.9211 1)" font-family="Liberation Serif" font-size="38">5</text>
<text transform="translate(1227.14 719) scale(0.9683 1)" font-family="Liberation Serif" font-size="38">3</text>
<text transform="translate(1248.45 719) scale(0.9997 1)" font-family="Liberation Serif" font-size="38">0</text>
</svg></body></html>
